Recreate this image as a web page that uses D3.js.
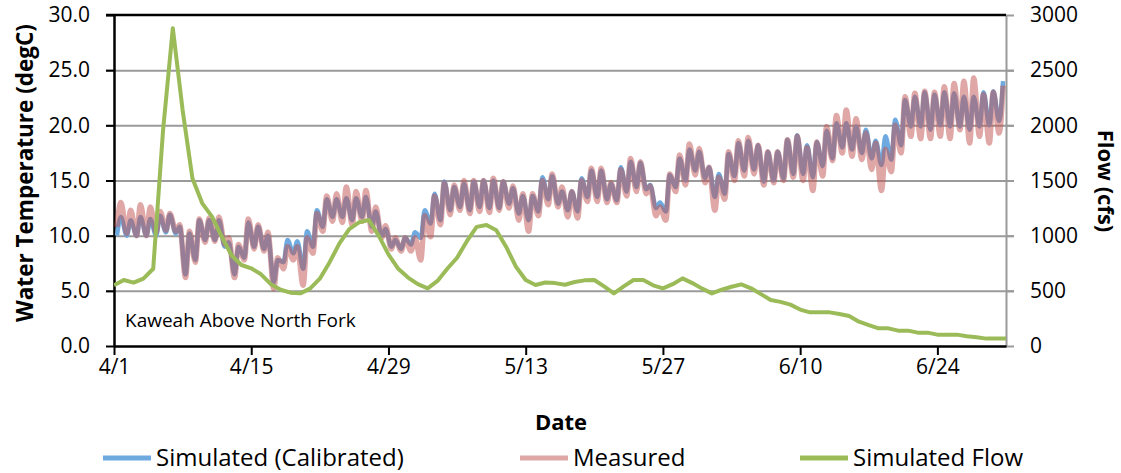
<!DOCTYPE html>
<html><head><meta charset="utf-8">
<script src="https://cdn.jsdelivr.net/npm/d3@7"></script>
<style>
body{margin:0;background:#fff}
svg{display:block}
text{font-family:"Open Sans",sans-serif;fill:#000}
</style>
</head><body>
<svg id="c" width="1121" height="473"></svg>
<script>
// ---- data ----
const tickDays   = [0, 14, 28, 42, 56, 70, 84];
const tickLabels = ["4/1", "4/15", "4/29", "5/13", "5/27", "6/10", "6/24"];
const tempTicks  = [0, 5, 10, 15, 20, 25, 30];
const flowTicks  = [0, 500, 1000, 1500, 2000, 2500, 3000];
const seriesNames = ["Simulated (Calibrated)", "Measured", "Simulated Flow"];

// daily flow (cfs), 4/1 .. 7/1
const flow = [550,598,574,610,700,1950,2880,2138,1520,1293,
  1172,990,820,734,704,650,560,510,483,477,
  520,610,760,930,1060,1120,1142,1000,830,700,
  620,560,523,590,700,800,950,1080,1097,1050,
  900,720,598,553,575,570,555,580,595,598,
  540,477,540,598,598,550,523,560,613,570,
  520,477,510,537,559,523,470,417,400,375,
  330,305,305,305,290,272,220,190,160,160,
  139,139,121,121,103,103,103,88,80,67,
  67,67];

// daily min / max water temperature (degC), 4/1 .. 6/30
const simMin = [10.0,10.0,10.0,10.0,10.0,10.3,10.2,6.5,7.8,9.6,
  9.6,9.0,6.5,8.0,9.0,8.8,5.8,7.6,8.4,7.0,
  9.0,10.8,11.7,11.7,11.4,11.7,10.8,10.0,9.0,8.8,
  9.2,9.8,11.1,11.4,12.3,12.6,12.3,12.6,12.5,12.5,
  12.9,12.0,11.4,12.2,13.3,12.9,12.3,12.2,13.5,13.5,
  13.3,13.2,14.0,14.4,14.2,12.5,12.2,14.4,15.0,15.9,
  15.2,13.5,13.8,15.4,15.9,16.0,14.9,15.0,15.2,15.6,
  15.6,15.3,16.3,17.0,18.0,17.8,17.5,17.0,16.4,16.9,
  18.2,19.9,19.9,19.6,20.0,19.9,19.9,19.6,19.9,20.0,
  20.4];
const simMax = [11.7,11.4,11.7,11.5,11.8,11.9,10.8,10.2,11.4,11.4,
  11.4,9.4,9.0,11.2,10.8,10.0,7.8,9.6,9.5,10.4,
  12.3,13.3,13.3,13.4,13.4,13.5,12.2,10.6,9.6,9.8,
  10.3,12.3,13.8,14.9,14.4,14.7,14.9,15.0,15.0,14.9,
  14.3,13.6,13.6,15.3,15.4,14.0,14.0,15.2,15.9,15.9,
  14.7,16.2,16.7,16.6,14.6,13.0,15.5,17.0,17.8,17.6,
  16.2,15.6,17.4,18.4,18.6,18.2,17.6,17.6,18.7,19.1,
  18.2,18.5,19.5,20.2,20.2,19.9,19.6,18.6,19.0,20.5,
  22.3,22.6,23.0,22.8,23.0,22.9,22.6,22.6,23.0,23.1,
  24.0];
const measMin = [10.8,10.2,10.0,10.0,10.3,10.5,10.4,6.2,7.6,9.4,
  9.5,9.2,6.2,7.8,8.8,8.6,5.2,7.0,7.8,5.5,
  8.4,10.4,11.3,11.2,11.0,11.3,10.4,9.8,8.8,8.6,
  8.6,7.8,9.9,11.0,11.9,12.3,12.0,12.2,12.1,12.3,
  12.5,11.4,10.4,11.8,12.8,12.6,11.7,11.6,13.1,13.1,
  13.0,13.0,13.6,14.0,13.8,11.8,11.4,14.0,14.6,15.5,
  14.8,12.3,13.3,15.0,15.4,15.6,14.6,14.8,15.0,15.3,
  15.0,14.1,15.4,16.8,17.5,17.2,16.9,16.0,14.1,15.8,
  17.5,19.0,18.8,18.8,19.0,18.8,19.6,18.4,19.0,18.4,
  19.3];
const measMax = [13.0,12.3,12.8,12.6,12.2,12.0,11.0,10.4,11.5,11.6,
  11.7,9.8,9.2,11.5,11.0,10.3,8.0,9.0,9.0,9.8,
  12.0,13.6,13.8,14.4,14.0,14.1,12.6,10.9,9.8,9.8,
  9.8,11.8,13.6,14.8,14.6,15.0,15.0,15.0,15.2,14.9,
  14.5,13.8,13.8,15.0,15.6,14.4,14.0,15.0,16.1,16.1,
  14.8,16.0,17.0,16.7,14.5,12.6,15.6,17.3,18.3,17.9,
  16.2,15.3,17.6,18.6,18.9,18.2,17.6,17.6,18.7,19.0,
  18.0,18.5,19.9,20.9,21.4,20.6,19.3,18.4,17.8,20.0,
  22.6,22.9,23.1,23.0,23.5,23.8,24.0,24.3,22.8,23.0,
  23.6];

// ---- chart ----
const svg = d3.select("#c");
const L = 114, R = 1006, T = 15, B = 346;
const x  = d3.scaleLinear().domain([0, 91]).range([L, R]);
const yT = d3.scaleLinear().domain([0, 30]).range([B, T]);
const yF = d3.scaleLinear().domain([0, 3000]).range([B, T]);
const grid = "#9a9a9a";
const TF = "DejaVu Sans", TS = 21;

// gridlines (extend as ticks on both sides)
const gridG = svg.append("g").attr("transform", `translate(${L-8},0)`)
  .call(d3.axisRight(yT).tickValues(tempTicks.slice(1, -1)).tickSize(R - L + 16).tickFormat(""));
gridG.select(".domain").remove();
gridG.selectAll("line").attr("stroke", grid).attr("stroke-width", 2);

// left axis
const gL = svg.append("g").attr("transform", `translate(${L},0)`)
  .call(d3.axisLeft(yT).tickValues(tempTicks).tickFormat(d3.format(".1f")).tickSizeInner(8).tickSizeOuter(0).tickPadding(16));
gL.select(".domain").attr("stroke", "#000").attr("stroke-width", 2.5);
gL.selectAll(".tick line").attr("stroke", "#000").attr("stroke-width", 2);
gL.selectAll("text").attr("font-size", TS).attr("font-family", TF).attr("fill", "#000");

// right axis
const gR = svg.append("g").attr("transform", `translate(${R},0)`)
  .call(d3.axisRight(yF).tickValues(flowTicks).tickFormat(d3.format("d")).tickSizeInner(8).tickSizeOuter(0).tickPadding(16));
gR.select(".domain").attr("stroke", grid).attr("stroke-width", 2);
gR.selectAll(".tick line").attr("stroke", grid).attr("stroke-width", 2);
gR.selectAll("text").attr("font-size", TS).attr("font-family", TF).attr("fill", "#000");

// top border
svg.append("line").attr("x1", L - 8).attr("x2", R).attr("y1", T).attr("y2", T)
  .attr("stroke", "#000").attr("stroke-width", 2.5);

// bottom axis
const gB = svg.append("g").attr("transform", `translate(0,${B})`)
  .call(d3.axisBottom(x).tickValues(tickDays).tickFormat((d, i) => tickLabels[i]).tickSizeInner(9).tickSizeOuter(0).tickPadding(4));
gB.select(".domain").attr("stroke", "#000").attr("stroke-width", 2.5);
gB.selectAll(".tick line").attr("stroke", "#000").attr("stroke-width", 2);
gB.selectAll("text").attr("font-size", TS).attr("font-family", TF).attr("fill", "#000");

// clip
svg.append("clipPath").attr("id", "clip").append("rect")
  .attr("x", L).attr("y", T - 2).attr("width", R - L).attr("height", B - T + 2);

function diurnal(mins, maxs) {
  const pts = [];
  mins.forEach((m, d) => { pts.push([d + 0.3, m]); pts.push([d + 0.7, maxs[d]]); });
  return pts;
}
const tLine = d3.line().x(d => x(d[0])).y(d => yT(d[1])).curve(d3.curveMonotoneX);
const plot = svg.append("g").attr("clip-path", "url(#clip)");
plot.append("path").attr("d", tLine(diurnal(simMin, simMax)))
  .attr("fill", "none").attr("stroke", "#6eaadf").attr("stroke-width", 4.5).attr("stroke-linejoin", "round");
plot.append("path").attr("d", tLine(diurnal(measMin, measMax)))
  .attr("fill", "none").attr("stroke", "#c0504d").attr("stroke-opacity", 0.5).attr("stroke-width", 5.5).attr("stroke-linejoin", "round");
const fLine = d3.line().x((d, i) => x(i)).y(d => yF(d));
plot.append("path").attr("d", fLine(flow))
  .attr("fill", "none").attr("stroke", "#9bbb59").attr("stroke-width", 4).attr("stroke-linejoin", "round");

// annotation
svg.append("text").attr("x", 125).attr("y", 327).attr("font-size", 19).text("Kaweah Above North Fork");

// axis titles
svg.append("text").attr("transform", "translate(33,173) rotate(-90)").attr("text-anchor", "middle")
  .attr("font-size", 22.5).attr("font-weight", "bold").text("Water Temperature (degC)");
svg.append("text").attr("transform", "translate(1098,181) rotate(90)").attr("text-anchor", "middle")
  .attr("font-size", 22).attr("font-weight", "bold").text("Flow (cfs)");
svg.append("text").attr("x", 561).attr("y", 430).attr("text-anchor", "middle")
  .attr("font-size", 22).attr("font-weight", "bold").text("Date");

// legend
const legend = [
  {name: seriesNames[0], color: "#6eaadf", op: 1, x: 103},
  {name: seriesNames[1], color: "#c0504d", op: 0.5, x: 520},
  {name: seriesNames[2], color: "#9bbb59", op: 1, x: 800}
];
const lg = svg.append("g").selectAll("g").data(legend).join("g").attr("transform", d => `translate(${d.x},458)`);
lg.append("line").attr("x1", 0).attr("x2", 48).attr("stroke", d => d.color).attr("stroke-opacity", d => d.op).attr("stroke-width", 5);
lg.append("text").attr("x", 53).attr("y", 8).attr("font-size", 24).text(d => d.name);
</script>
</body></html>
